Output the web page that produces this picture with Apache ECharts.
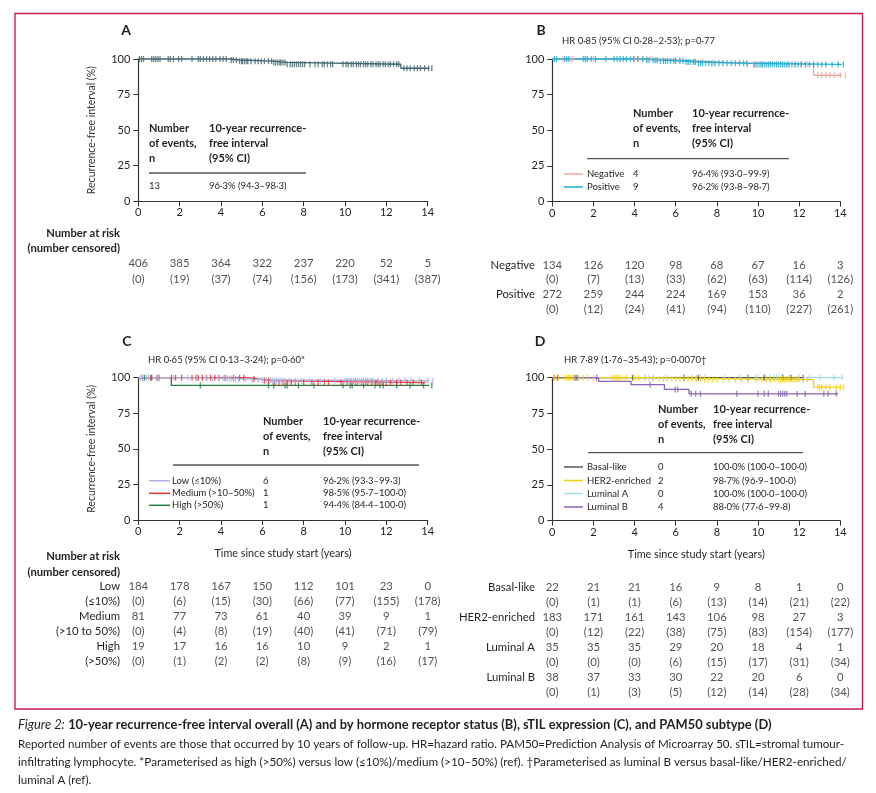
<!DOCTYPE html>
<html><head><meta charset="utf-8">
<script src="https://cdn.jsdelivr.net/npm/echarts@6/dist/echarts.min.js"></script>
<style>html,body{margin:0;padding:0;background:#fff}#c{width:876px;height:793px}</style>
</head><body><div id="c"></div><script>
// ---------- DATA ----------
const years = [0, 2, 4, 6, 8, 10, 12, 14];

// Panel A (overall)
const A_steps = [[0,100],[4.4,99.3],[4.9,98.5],[6.5,97.6],[7.2,96.3],[12.7,93.5],[14.3,93.5]];
const A_censor = [0.05,0.15,0.25,0.65,0.75,0.85,0.95,1.05,1.45,1.55,1.7,1.95,2.1,2.6,2.9,3.0,3.15,3.3,3.45,3.6,3.75,3.95,4.1,4.25,4.5,4.6,4.75,4.9,5.0,5.05,5.15,5.25,5.3,5.45,5.65,5.8,5.95,6.1,6.3,6.45,6.55,6.65,6.75,6.85,6.9,7.0,7.1,7.2,7.35,7.45,7.55,7.65,7.75,7.85,7.95,8.05,8.3,8.55,8.7,8.9,9.0,9.15,9.3,9.4,9.9,10.05,10.15,10.3,10.4,10.55,10.65,10.75,10.9,11.0,11.1,11.25,11.35,11.5,11.6,11.7,11.85,11.95,12.1,12.2,12.35,12.5,12.6,12.85,13.0,13.15,13.35,13.5,13.65,13.85,14.05,14.2];
const A_atRisk = [406,385,364,322,237,220,52,5];
const A_cens = [0,19,37,74,156,173,341,387];

// Panel B (hormone receptor status)
const B_neg_steps = [[0,100],[5.0,99.2],[6.3,98.3],[7.5,97.4],[8.6,96.4],[12.7,88.6],[14.3,88.6]];
const B_pos_steps = [[0,100],[4.5,99.2],[5.2,98.6],[6.4,97.9],[7.1,97.0],[9.6,96.2],[14.15,96.2]];
const B_neg_censor = [0.5,0.9,1.0,2.0,3.3,4.0,4.2,4.4,4.6,4.8,5.1,5.4,6.0,6.2,6.9,7.3,7.8,9.5,9.8,10.2,10.6,10.9,11.2,11.5,11.8,12.1,12.4,12.9,13.1,13.3,13.5,13.7,14.0,14.25];
const B_pos_censor = [0.1,0.2,0.6,0.7,0.8,1.5,1.6,1.7,1.9,2.1,2.6,3.0,3.15,3.3,3.45,3.6,3.8,3.95,4.15,4.4,4.6,4.7,4.9,5.0,5.1,5.25,5.4,5.5,5.6,5.75,5.9,6.0,6.2,6.35,6.5,6.6,6.7,6.85,6.95,7.1,7.2,7.3,7.45,7.6,7.75,7.9,8.1,8.3,8.5,8.7,8.9,9.1,9.3,9.45,9.8,9.9,10.0,10.1,10.2,10.3,10.4,10.5,10.6,10.7,10.8,10.9,11.0,11.1,11.2,11.3,11.4,11.5,11.65,11.8,11.95,12.1,12.3,12.5,12.7,12.9,13.1,13.3,13.6,13.9,14.15];
const B_neg_atRisk = [134,126,120,98,68,67,16,3];
const B_neg_cens = [0,7,13,33,62,63,114,126];
const B_pos_atRisk = [272,259,244,224,169,153,36,2];
const B_pos_cens = [0,12,24,41,94,110,227,261];

// Panel C (sTIL expression)
const C_low_steps = [[0,100],[3.0,99.5],[4.6,99.0],[5.5,98.4],[6.5,97.8],[14.3,97.8]];
const C_med_steps = [[0,100],[5.3,99.0],[5.9,98.0],[6.4,96.6],[13.9,96.6]];
const C_high_steps = [[0,100],[1.6,94.6],[14.3,94.6]];
const C_low_censor = [0.1,0.2,0.4,0.5,0.9,1.0,1.7,2.4,2.8,3.3,3.6,3.9,4.1,4.2,4.3,4.4,4.5,4.6,4.7,4.85,5.2,5.5,5.8,6.0,6.2,6.4,6.5,6.6,6.7,6.8,6.9,7.0,7.1,7.3,7.6,7.9,8.3,8.8,9.5,10.0,10.1,10.2,10.3,10.4,10.5,10.6,10.7,10.8,10.9,11.0,11.1,11.2,11.3,11.4,11.6,11.8,12.0,12.3,12.6,12.9,13.2,13.6,14.0,14.25];
const C_med_censor = [0.2,0.6,0.9,1.0,1.6,1.8,2.1,2.6,2.8,2.9,3.1,3.3,3.5,3.7,3.9,4.2,4.6,4.9,5.1,5.6,6.1,6.3,6.6,6.8,7.0,7.2,7.4,7.6,8.0,8.4,8.7,9.0,9.2,9.8,10.1,10.3,10.5,10.6,10.8,11.0,11.1,11.3,11.5,11.6,11.8,12.0,12.2,12.5,12.7,13.0,13.3,13.7];
const C_high_censor = [0.3,0.65,3.0,6.3,6.55,7.1,7.2,7.75,8.5,9.9,10.25,10.35,10.9,11.45,11.7,11.85,12.5,13.15,13.8,14.2];
const C_low_atRisk = [184,178,167,150,112,101,23,0];
const C_low_cens = [0,6,15,30,66,77,155,178];
const C_med_atRisk = [81,77,73,61,40,39,9,1];
const C_med_cens = [0,4,8,19,40,41,71,79];
const C_high_atRisk = [19,17,16,16,10,9,2,1];
const C_high_cens = [0,1,2,2,8,9,16,17];

// Panel D (PAM50 subtype)
const D_basal_steps = [[0,100],[12.2,100]];
const D_her2_steps = [[0,100],[4.7,99.3],[7.4,98.7],[12.7,93.4],[14.15,93.4]];
const D_lumA_steps = [[0,100],[14.15,100]];
const D_lumB_steps = [[0,100],[2.25,97.4],[3.83,95.1],[5.45,91.8],[6.65,88.7],[13.9,88.7]];
const D_basal_censor = [0.1,1.2,3.9,6.4,7.1,9.5,10.3,11.2,11.6,12.2];
const D_her2_censor = [0.1,0.3,0.6,0.7,0.8,0.9,1.0,1.1,1.3,1.5,1.7,2.0,2.9,3.0,3.1,3.2,3.3,3.6,4.0,4.2,4.5,4.9,5.2,5.4,5.6,5.8,6.0,6.2,6.4,6.6,6.8,7.0,7.2,7.4,7.6,7.8,8.0,8.3,8.6,8.9,9.2,9.5,9.9,10.2,10.4,10.6,10.8,11.0,11.1,11.2,11.3,11.4,11.5,11.6,11.7,11.8,11.9,12.0,12.2,12.4,12.9,13.0,13.1,13.3,13.5,13.8,14.0,14.15];
const D_lumA_censor = [4.5,4.7,4.9,5.5,6.8,7.0,7.2,7.4,8.4,9.1,9.9,10.0,10.4,10.6,10.8,10.9,11.0,11.2,11.5,12.0,12.5,13.0,13.7,14.1];
const D_lumB_censor = [0.25,1.1,2.15,4.75,5.97,6.1,6.75,6.97,7.2,8.97,10.0,10.3,10.5,11.0,11.1,11.2,11.3,11.4,11.9,12.3,13.2,13.4,13.8];
const D_basal_atRisk = [22,21,21,16,9,8,1,0];
const D_basal_cens = [0,1,1,6,13,14,21,22];
const D_her2_atRisk = [183,171,161,143,106,98,27,3];
const D_her2_cens = [0,12,22,38,75,83,154,177];
const D_lumA_atRisk = [35,35,35,29,20,18,4,1];
const D_lumA_cens = [0,0,0,6,15,17,31,34];
const D_lumB_atRisk = [38,37,33,30,22,20,6,0];
const D_lumB_cens = [0,1,3,5,12,14,28,34];

// Inline summary tables
const B_groups = ['Negative','Positive'];
const B_events = ['4','9'];
const B_rfi = ['96·4% (93·0–99·9)','96·2% (93·8–98·7)'];
const C_groups = ['Low (≤10%)','Medium (>10–50%)','High (>50%)'];
const C_events = ['6','1','1'];
const C_rfi = ['96·2% (93·3–99·3)','98·5% (95·7–100·0)','94·4% (84·4–100·0)'];
const D_groups = ['Basal-like','HER2-enriched','Luminal A','Luminal B'];
const D_events = ['0','2','0','4'];
const D_rfi = ['100·0% (100·0–100·0)','98·7% (96·9–100·0)','100·0% (100·0–100·0)','88·0% (77·6–99·8)'];

// ---------- STYLE ----------
const FONT = 'Lato, "Open Sans", sans-serif';
const TXT = '#231f20';
const AX = '#333333';
const COL = {
  A: '#44666f',
  neg: '#f3a7a5', pos: '#1aaed3',
  low: '#a7b1e2', med: '#e8322f', high: '#237d45',
  basal: '#4b5a5c', her2: '#f6d10f', lumA: '#a5d8ea', lumB: '#8c62b2'
};

const plotGrids = [
  {left:138.3, top:59, width:289.4, height:142.3},
  {left:552.3, top:59, width:288, height:142.5},
  {left:138.3, top:377.7, width:289.4, height:142.3},
  {left:552.3, top:377.7, width:288, height:143}
];
const riskGrids = [
  {left:138.3, top:255, width:289.4, height:32},
  {left:552.3, top:257.7, width:288, height:58.7},
  {left:138.3, top:578.5, width:289.4, height:90},
  {left:552.3, top:579.5, width:288, height:120}
];
const riskCats = [
  ['',''],
  ['Negative','','Positive',''],
  ['Low','(≤10%)','Medium','(>10 to 50%)','High','(>50%)'],
  ['Basal-like','','HER2-enriched','','Luminal A','','Luminal B','']
];
const riskRows = [
  [A_atRisk, A_cens],
  [B_neg_atRisk, B_neg_cens, B_pos_atRisk, B_pos_cens],
  [C_low_atRisk, C_low_cens, C_med_atRisk, C_med_cens, C_high_atRisk, C_high_cens],
  [D_basal_atRisk, D_basal_cens, D_her2_atRisk, D_her2_cens, D_lumA_atRisk, D_lumA_cens, D_lumB_atRisk, D_lumB_cens]
];

function valueAt(steps, t){ let v = steps[0][1]; for (const s of steps){ if (s[0] <= t) v = s[1]; else break; } return v; }
function km(idx, steps, censor, color){
  return [
    {type:'line', xAxisIndex:idx, yAxisIndex:idx, data:steps, step:'end', symbol:'none', showSymbol:false,
     clip:false, silent:true, lineStyle:{color, width:1.3}, z:2},
    {type:'scatter', xAxisIndex:idx, yAxisIndex:idx, data:censor.map(t => [t, valueAt(steps, t)]),
     symbol:'rect', symbolSize:[1.3, 6], clip:false, silent:true, itemStyle:{color}, z:2}
  ];
}
function risk(idx){
  const data = [];
  riskRows[idx].forEach((row, ri) => row.forEach((v, ci) => data.push([years[ci], ri, v])));
  return {type:'scatter', xAxisIndex:4+idx, yAxisIndex:4+idx, data, symbolSize:1, silent:true,
    itemStyle:{color:'rgba(0,0,0,0)'},
    label:{show:true, position:'inside', fontFamily:FONT, fontSize:11.3, color:TXT,
      formatter: p => (p.value[1] % 2 === 1) ? '(' + p.value[2] + ')' : String(p.value[2])}};
}

const xAxes = [], yAxes = [];
plotGrids.forEach((g, i) => {
  xAxes.push({gridIndex:i, type:'value', min:0, max:14, interval:2,
    name: i >= 2 ? 'Time since study start (years)' : '', nameLocation:'middle', nameGap:28,
    nameTextStyle:{fontFamily:FONT, fontSize:10.8, color:TXT},
    axisLine:{show:true, lineStyle:{color:AX, width:1.2}},
    axisTick:{show:true, length:5, lineStyle:{color:AX, width:1}},
    axisLabel:{fontFamily:FONT, fontSize:11, color:TXT, margin:6},
    splitLine:{show:false}});
  yAxes.push({gridIndex:i, type:'value', min:0, max:100, interval:25,
    name: (i % 2 === 0) ? 'Recurrence-free interval (%)' : '', nameLocation:'middle', nameGap:41,
    nameTextStyle:{fontFamily:FONT, fontSize:10.5, color:'#333'},
    axisLine:{show:true, lineStyle:{color:AX, width:1.2}},
    axisTick:{show:true, length:5, lineStyle:{color:AX, width:1}},
    axisLabel:{fontFamily:FONT, fontSize:11, color:TXT, margin:8},
    splitLine:{show:false}});
});
riskGrids.forEach((g, i) => {
  xAxes.push({gridIndex:4+i, type:'value', min:0, max:14, show:false});
  yAxes.push({gridIndex:4+i, type:'category', data:riskCats[i], inverse:true,
    axisLine:{show:false}, axisTick:{show:false}, splitLine:{show:false},
    axisLabel:{fontFamily:FONT, fontSize:11.3, color:TXT, margin:(i % 2 === 0) ? 18.3 : 17.3, interval:0}});
});

const series = [
  ...km(0, A_steps, A_censor, COL.A),
  ...km(1, B_neg_steps, B_neg_censor, COL.neg),
  ...km(1, B_pos_steps, B_pos_censor, COL.pos),
  ...km(2, C_high_steps, C_high_censor, COL.high),
  ...km(2, C_med_steps, C_med_censor, COL.med),
  ...km(2, C_low_steps, C_low_censor, COL.low),
  ...km(3, D_lumA_steps, D_lumA_censor, COL.lumA),
  ...km(3, D_basal_steps, D_basal_censor, COL.basal),
  ...km(3, D_her2_steps, D_her2_censor, COL.her2),
  ...km(3, D_lumB_steps, D_lumB_censor, COL.lumB),
  risk(0), risk(1), risk(2), risk(3)
];

// ---------- GRAPHIC TEXT ----------
const G = [];
function txt(x, y, text, size, opts){
  opts = opts || {};
  G.push({type:'text', x, y, silent:true, z:10, style:{text, fill:opts.fill || TXT,
    font:(opts.style ? opts.style + ' ' : '') + (opts.weight || 'normal') + ' ' + size + 'px ' + FONT,
    align:opts.align || 'left', verticalAlign:'middle'}});
}
function hline(x1, x2, y, color, w){
  G.push({type:'line', silent:true, z:10, shape:{x1, y1:y, x2, y2:y}, style:{stroke:color, lineWidth:w}});
}
// frame
G.push({type:'rect', silent:true, z:1, shape:{x:15, y:13.5, width:847.5, height:695.5},
  style:{fill:'none', stroke:'#c8194f', lineWidth:1.4}});
// panel letters
txt(126, 30, 'A', 14, {weight:'bold', align:'center'});
txt(541, 30, 'B', 14, {weight:'bold', align:'center'});
txt(127, 341, 'C', 14, {weight:'bold', align:'center'});
txt(540, 341, 'D', 14, {weight:'bold', align:'center'});
// HR texts
txt(562, 41, 'HR 0·85 (95% CI 0·28–2·53); p=0·77', 9.5);
txt(148, 360, 'HR 0·65 (95% CI 0·13–3·24); p=0·60*', 9.5);
txt(564, 360, 'HR 7·89 (1·76–35·43); p=0·0070†', 9.5);
// number at risk labels
txt(120, 233, 'Number at risk', 11.2, {weight:'bold', align:'right'});
txt(120, 248, '(number censored)', 11.2, {weight:'bold', align:'right'});
txt(120, 556, 'Number at risk', 11.2, {weight:'bold', align:'right'});
txt(120, 572, '(number censored)', 11.2, {weight:'bold', align:'right'});

function header(x1, x2, ys){
  const h1 = ['Number','of events,','n'], h2 = ['10-year recurrence-','free interval','(95% CI)'];
  ys.forEach((y, i) => { txt(x1, y, h1[i], 11, {weight:'bold'}); txt(x2, y, h2[i], 11, {weight:'bold'}); });
}
// Table A
header(149, 209, [128, 143, 158]);
hline(149, 306, 173, '#555', 1.3);
txt(149, 186, '13', 9.5);
txt(209, 186, '96·3% (94·3–98·3)', 9.5);
// Table B
header(633, 692, [113, 128, 143]);
hline(587, 789, 158.7, '#555', 1.3);
[174, 187].forEach((y, i) => {
  hline(564, 583, y, [COL.neg, COL.pos][i], 1.5);
  txt(587, y, B_groups[i], 9.5); txt(633, y, B_events[i], 9.5); txt(692, y, B_rfi[i], 9.5);
});
// Table C
header(263, 323, [421, 436.3, 451.7]);
hline(173, 419, 465, '#555', 1.3);
[480.7, 493.3, 505.3].forEach((y, i) => {
  hline(149, 170, y, [COL.low, COL.med, COL.high][i], 1.5);
  txt(172, y, C_groups[i], 9.5); txt(263, y, C_events[i], 9.5); txt(323, y, C_rfi[i], 9.5);
});
// Table D
header(658, 713, [409, 424, 439]);
hline(588, 803, 452.7, '#555', 1.3);
[467, 480.5, 493.5, 507].forEach((y, i) => {
  hline(564, 583, y, [COL.basal, COL.her2, COL.lumA, COL.lumB][i], 1.5);
  txt(587, y, D_groups[i], 9.5); txt(658, y, D_events[i], 9.5); txt(713, y, D_rfi[i], 9.5);
});
// Caption
G.push({type:'text', x:18, y:725, silent:true, z:10, style:{
  text:'{i|Figure 2:} {b|10-year recurrence-free interval overall (A) and by hormone receptor status (B), sTIL expression (C), and PAM50 subtype (D)}',
  verticalAlign:'middle', fill:TXT,
  rich:{i:{font:'italic 12.9px ' + FONT, fill:TXT}, b:{font:'bold 12.9px ' + FONT, fill:TXT}}}});
txt(18, 744, 'Reported number of events are those that occurred by 10 years of follow-up. HR=hazard ratio. PAM50=Prediction Analysis of Microarray 50. sTIL=stromal tumour-', 11.6);
txt(18, 762, 'infiltrating lymphocyte. *Parameterised as high (>50%) versus low (≤10%)/medium (>10–50%) (ref). †Parameterised as luminal B versus basal-like/HER2-enriched/', 11.7);
txt(18, 780, 'luminal A (ref).', 11.6);

const chart = echarts.init(document.getElementById('c'), null, {renderer:'canvas'});
chart.setOption({
  animation:false,
  backgroundColor:'#ffffff',
  grid:[...plotGrids, ...riskGrids],
  xAxis:xAxes, yAxis:yAxes, series, graphic:G
});
</script></body></html>
